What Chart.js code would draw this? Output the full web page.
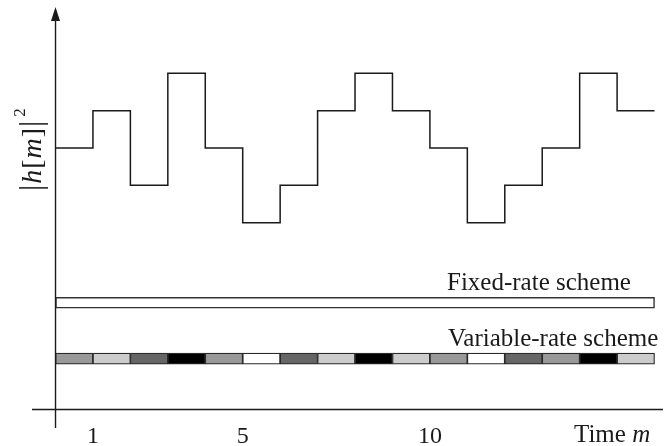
<!DOCTYPE html>
<html>
<head>
<meta charset="utf-8">
<script src="https://cdn.jsdelivr.net/npm/chart.js@4.4.1/dist/chart.umd.min.js"></script>
<style>
  html, body { margin:0; padding:0; background:#fff; }
  #wrap { width:664px; height:446px; position:relative; }
</style>
</head>
<body>
<div id="wrap"><canvas id="chart"></canvas></div>
<script>
    // Data
    const SLOTS       = [0,1,2,3,4,5,6,7,8,9,10,11,12,13,14,15];
    const GAIN_LEVELS = [2,3,1,4,2,0,1,3,4,3,2,0,1,2,4,3];   // |h[m]|^2 step heights
    const RATE_LEVELS = [2,3,1,4,2,0,1,3,4,3,2,0,1,2,4,3];   // shade of each variable-rate slot
    const TICK_VALUES = [1,5,10];
    const TICK_LABELS = ['1','5','10'];

    // Styles / layout
    const SHADES = { 0:'#ffffff', 1:'#666666', 2:'#999999', 3:'#cccccc', 4:'#000000' };
    const INK = '#1a1a1a';
    const SERIF = '"Liberation Serif", "Times New Roman", "DejaVu Serif", serif';
    const FIXED_BAND = [-2.29, -2.0];
    const VAR_BAND   = [-3.79, -3.49];
    const X_AXIS_AT  = -5.0;
    const X_MIN = -0.628, X_MAX = 16.226;

    const N = SLOTS.length;
    const stepData = SLOTS.map(i => ({ x:i, y:GAIN_LEVELS[i] }))
      .concat([{ x:N, y:GAIN_LEVELS[N-1] }]);

    const axesAndText = {
      id:'axesAndText',
      afterDraw(chart){
        const { ctx, chartArea:a, scales:{x, y} } = chart;
        const x0 = x.getPixelForValue(0);
        const yAx = y.getPixelForValue(X_AXIS_AT);
        ctx.save();
        ctx.strokeStyle = INK;
        ctx.fillStyle = INK;
        ctx.lineWidth = 1.4;
        // x axis
        ctx.beginPath();
        ctx.moveTo(a.left, yAx);
        ctx.lineTo(a.right, yAx);
        ctx.stroke();
        // y axis with arrow
        ctx.beginPath();
        ctx.moveTo(x0, a.bottom);
        ctx.lineTo(x0, a.top + 10);
        ctx.stroke();
        ctx.beginPath();
        ctx.moveTo(x0, a.top);
        ctx.lineTo(x0 - 4.5, a.top + 14);
        ctx.lineTo(x0 + 4.5, a.top + 14);
        ctx.closePath();
        ctx.fill();

        // tick labels
        ctx.font = '24px ' + SERIF;
        ctx.textAlign = 'center';
        ctx.textBaseline = 'alphabetic';
        x.ticks.forEach((t, i) => {
          ctx.fillText(TICK_LABELS[i], x.getPixelForTick(i), 443);
        });
        ctx.textAlign = 'left';
        ctx.font = '25px ' + SERIF;
        ctx.fillText('Time ', 574, 442);
        const w = ctx.measureText('Time ').width;
        ctx.font = 'italic 25px ' + SERIF;
        ctx.fillText('m', 574 + w, 442);

        // band labels
        ctx.font = '25px ' + SERIF;
        ctx.fillText('Fixed-rate scheme', 447, 290);
        ctx.fillText('Variable-rate scheme', 448, 345.5);

        // y label |h[m]|^2, rotated
        ctx.translate(39, 191);
        ctx.rotate(-Math.PI/2);
        const parts = [['|',false,31],['h',true,28],['[',false,28],['m',true,28],[']',false,28],['|',false,31]];
        let pos = 0;
        parts.forEach(([t, it, sz]) => {
          ctx.font = (it ? 'italic ' : '') + sz + 'px ' + SERIF;
          ctx.fillText(t, pos, 2);
          pos += ctx.measureText(t).width + 1;
        });
        ctx.font = '17px ' + SERIF;
        ctx.fillText('2', pos + 3, -14);
        ctx.restore();
      }
    };

    new Chart(document.getElementById('chart'), {
      data: {
        datasets: [
          {
            type:'line',
            data: stepData,
            stepped:'before',
            borderColor: INK,
            borderWidth: 1.5,
            pointRadius: 0,
            fill: false
          },
          {
            // one bar spanning every slot, on its own copy of the x axis
            type:'bar',
            xAxisID:'xFixed',
            data: [{ x:N / 2, y:FIXED_BAND }],
            backgroundColor:'#ffffff',
            borderColor:'#333333',
            borderWidth:1.5,
            borderSkipped:false,
            grouped:false,
            barThickness: c => {
              const s = c.chart.scales.xFixed;
              return s.getPixelForValue(N) - s.getPixelForValue(0);
            }
          },
          {
            type:'bar',
            data: SLOTS.map(i => ({ x:i + 0.5, y:VAR_BAND })),
            backgroundColor: RATE_LEVELS.map(l => SHADES[l]),
            borderColor:'#2a2a2a',
            borderWidth:1.2,
            borderSkipped:false,
            grouped:false,
            barPercentage:1,
            categoryPercentage:1
          }
        ]
      },
      options: {
        responsive:true,
        maintainAspectRatio:false,
        animation:false,
        layout:{ padding:{ left:32, right:1, top:7, bottom:18 } },
        plugins:{ legend:{ display:false }, tooltip:{ enabled:false } },
        scales:{
          x:{
            type:'linear', display:false, offset:false, min:X_MIN, max:X_MAX,
            afterBuildTicks: s => { s.ticks = TICK_VALUES.map(v => ({ value:v })); }
          },
          xFixed:{
            type:'linear', axis:'x', display:false, offset:false, min:X_MIN, max:X_MAX
          },
          y:{ type:'linear', display:false, min:-5.497, max:5.775 }
        }
      },
      plugins:[axesAndText]
    });
</script>
</body>
</html>
